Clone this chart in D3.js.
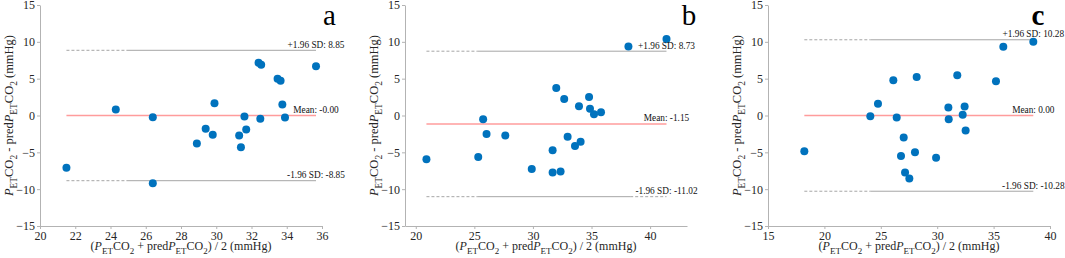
<!DOCTYPE html>
<html><head><meta charset="utf-8">
<script src="https://cdn.jsdelivr.net/npm/d3@7"></script>
<style>
html,body{margin:0;padding:0;background:#fff;}
svg{display:block;}
text{font-family:"Liberation Serif","Times New Roman",serif;}
</style></head>
<body>
<svg id="chart" width="1065" height="258"></svg>
<script>
// ---- data ----
const aX = [21.5, 24.3, 26.4, 26.4, 28.9, 29.4, 29.8, 29.9, 31.3, 31.4, 31.6, 31.7, 32.4, 32.55, 32.5, 33.48, 33.65, 33.75, 33.9, 35.66];
const aY = [-7.1, 0.8, -0.25, -9.2, -3.8, -1.8, -2.6, 1.67, -2.7, -4.3, -0.13, -1.9, 7.16, 6.9, -0.45, 5.0, 4.73, 1.5, -0.27, 6.67];
const bX = [20.91, 25.33, 25.75, 26.04, 27.64, 29.9, 31.68, 31.68, 31.99, 32.36, 32.67, 32.96, 33.93, 33.59, 34.07, 34.79, 34.87, 35.21, 35.81, 38.15, 41.4];
const bY = [-5.95, -5.63, -0.5, -2.52, -2.7, -7.25, -4.73, -7.75, 3.74, -7.6, 2.25, -2.88, 1.26, -4.14, -3.56, 2.52, 0.9, 0.18, 0.45, 9.37, 10.4];
const cX = [18.22, 24.07, 24.75, 26.11, 26.41, 26.79, 27.03, 27.15, 27.53, 28.03, 28.18, 29.9, 30.99, 31.02, 31.78, 32.26, 32.43, 32.52, 35.21, 35.86, 38.52];
const cY = [-4.86, -0.09, 1.58, 4.77, -0.27, -5.5, -3.0, -7.75, -8.56, -5.0, 5.23, -5.72, 1.08, -0.5, 5.45, 0.09, 1.22, -2.03, 4.64, 9.32, 10.0];

const meanVals  = [-0.00, -1.15, 0.00];
const upperVals = [8.85, 8.73, 10.28];
const lowerVals = [-8.85, -11.02, -10.28];
const meanLabels  = ["Mean: -0.00", "Mean: -1.15", "Mean: 0.00"];
const upperLabels = ["+1.96 SD: 8.85", "+1.96 SD: 8.73", "+1.96 SD: 10.28"];
const lowerLabels = ["-1.96 SD: -8.85", "-1.96 SD: -11.02", "-1.96 SD: -10.28"];

const xDomains = [[20, 36], [19.08, 43.15], [15, 40]];
const xTicksA = [20, 22, 24, 26, 28, 30, 32, 34, 36];
const xTicksB = [20, 25, 30, 35, 40];
const xTicksC = [15, 20, 25, 30, 35, 40];
const yTicks = [-15, -10, -5, 0, 5, 10, 15];
const panelLetters = ["a", "b", "c"];

// ---- layout ----
const svg = d3.select("#chart");
const panelLeft = [40, 405, 768];
const letterOffset = [7.5, 2, -12];
const plotW = 282, plotTop = 5, plotBottom = 226;
const dashEnds = [24.9, 25.3, 24.1];
const blue = "#0072BD", gray = "#a6a6a6", axisCol = "#b3b3b3", tickText = "#262626";

const panels = [
  {x: aX, y: aY, ticks: xTicksA},
  {x: bX, y: bY, ticks: xTicksB},
  {x: cX, y: cY, ticks: xTicksC}
];

function richText(sel, parts, size) {
  const sh = size * 0.32;
  parts.forEach(p => {
    const t = sel.append("tspan").text(p.t);
    if (p.i) t.attr("font-style", "italic");
    if (p.sub) t.attr("font-size", size * 0.75).attr("dy", sh);
    if (p.back) t.attr("dy", -sh);
  });
}
const yTitleParts = [
  {t:"P", i:true},{t:"ET", sub:true},{t:"CO", back:true},{t:"2", sub:true},
  {t:" - pred", back:true},{t:"P", i:true},{t:"ET", sub:true},{t:"CO", back:true},{t:"2", sub:true},{t:" (mmHg)", back:true}
];
const xTitleParts = [
  {t:"("},{t:"P", i:true},{t:"ET", sub:true},{t:"CO", back:true},{t:"2", sub:true},
  {t:" + pred", back:true},{t:"P", i:true},{t:"ET", sub:true},{t:"CO", back:true},{t:"2", sub:true},{t:") / 2 (mmHg)", back:true}
];

panels.forEach((p, k) => {
  const L = panelLeft[k];
  const x = d3.scaleLinear().domain(xDomains[k]).range([L, L + plotW]);
  const y = d3.scaleLinear().domain([-15, 15]).range([plotBottom, plotTop]);
  const g = svg.append("g");

  const xa = g.append("g").attr("transform", `translate(0,${plotBottom})`)
    .call(d3.axisBottom(x).tickValues(p.ticks).tickSize(3).tickSizeOuter(0).tickPadding(2));
  const ya = g.append("g").attr("transform", `translate(${L},0)`)
    .call(d3.axisLeft(y).tickValues(yTicks).tickSize(3).tickSizeOuter(0).tickPadding(2));
  [xa, ya].forEach(a => {
    a.select(".domain").attr("stroke", axisCol);
    a.selectAll(".tick line").attr("stroke", axisCol);
    a.selectAll(".tick text").attr("fill", tickText).attr("font-size", 12);
  });

  const xmin = d3.min(p.x), xmax = d3.max(p.x);

  g.append("line").attr("x1", x(xmin)).attr("x2", x(xmax))
    .attr("y1", y(meanVals[k])).attr("y2", y(meanVals[k]))
    .attr("stroke", "#ff9c9c").attr("stroke-width", 1.4);

  [upperVals[k], lowerVals[k]].forEach((v, j) => {
    g.append("line").attr("x1", x(xmin)).attr("x2", x(dashEnds[k]))
      .attr("y1", y(v)).attr("y2", y(v))
      .attr("stroke", gray).attr("stroke-width", 1).attr("stroke-dasharray", "3,2");
    let solidEnd = xmax;
    if (k === 1 && j === 1) {
      solidEnd = 38.3;
      g.append("line").attr("x1", x(38.3)).attr("x2", x(xmax))
        .attr("y1", y(v)).attr("y2", y(v))
        .attr("stroke", gray).attr("stroke-width", 1).attr("stroke-dasharray", "3,2");
    }
    g.append("line").attr("x1", x(dashEnds[k])).attr("x2", x(solidEnd))
      .attr("y1", y(v)).attr("y2", y(v))
      .attr("stroke", gray).attr("stroke-width", 1);
  });

  g.selectAll("circle").data(p.x.map((d, i) => [d, p.y[i]])).join("circle")
    .attr("cx", d => x(d[0])).attr("cy", d => y(d[1])).attr("r", 4)
    .attr("fill", blue);

  const lab = [[upperVals[k], upperLabels[k]], [meanVals[k], meanLabels[k]], [lowerVals[k], lowerLabels[k]]];
  lab.forEach(([v, t]) => {
    g.append("text").attr("x", x(xmax)).attr("y", y(v) - 2.5)
      .attr("text-anchor", "middle").attr("font-size", 9.3).attr("fill", "#111").text(t);
  });

  g.append("text").attr("x", L + plotW + letterOffset[k]).attr("y", 25).attr("text-anchor", "middle")
    .attr("font-size", 29).attr("font-weight", k === 2 ? "bold" : "normal")
    .attr("fill", "#000").text(panelLetters[k]);

  const xt = g.append("text").attr("x", L + plotW / 2).attr("y", 250)
    .attr("text-anchor", "middle").attr("font-size", 12).attr("fill", tickText);
  richText(xt, xTitleParts, 12);
  const yt = g.append("text").attr("transform", `translate(${L - 27},${(plotTop + plotBottom) / 2}) rotate(-90)`)
    .attr("text-anchor", "middle").attr("font-size", 12.5).attr("fill", tickText);
  richText(yt, yTitleParts, 12.5);
});
</script>
</body></html>
